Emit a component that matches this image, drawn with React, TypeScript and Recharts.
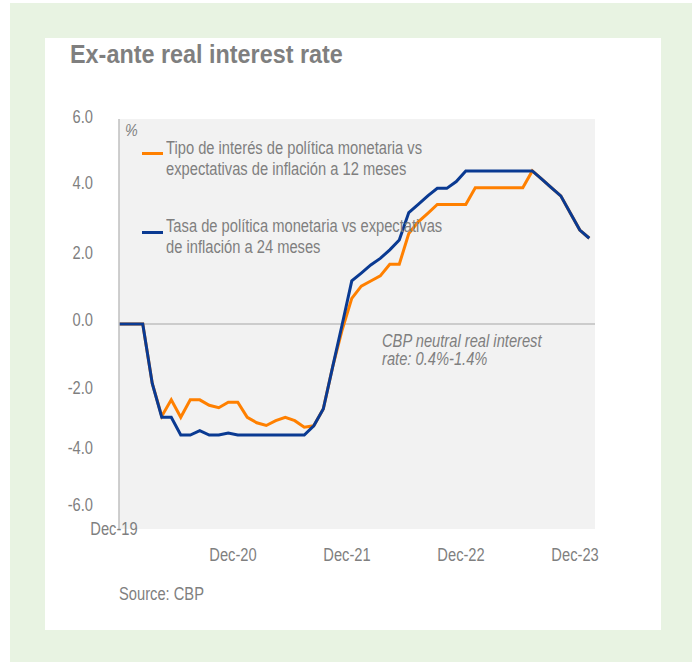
import { LineChart, Line, XAxis, YAxis, CartesianGrid, ReferenceLine, Legend } from 'recharts';

const MONTHS = [
  'Nov-19', 'Dec-19',
  'Jan-20', 'Feb-20', 'Mar-20', 'Apr-20', 'May-20', 'Jun-20', 'Jul-20', 'Aug-20', 'Sep-20', 'Oct-20', 'Nov-20', 'Dec-20',
  'Jan-21', 'Feb-21', 'Mar-21', 'Apr-21', 'May-21', 'Jun-21', 'Jul-21', 'Aug-21', 'Sep-21', 'Oct-21', 'Nov-21', 'Dec-21',
  'Jan-22', 'Feb-22', 'Mar-22', 'Apr-22', 'May-22', 'Jun-22', 'Jul-22', 'Aug-22', 'Sep-22', 'Oct-22', 'Nov-22', 'Dec-22',
  'Jan-23', 'Feb-23', 'Mar-23', 'Apr-23', 'May-23', 'Jun-23', 'Jul-23', 'Aug-23', 'Sep-23', 'Oct-23', 'Nov-23', 'Dec-23',
  'Jan-24',
];

// policy rate vs 12-month inflation expectations
const RATE_12M = [
  0, 0,
  0, 0, -1.74, -2.7, -2.22, -2.73, -2.22, -2.22, -2.38, -2.45, -2.29, -2.29,
  -2.73, -2.89, -2.97, -2.83, -2.73, -2.83, -3.02, -2.98, -2.49, -1.24, -0.16, 0.75,
  1.11, 1.26, 1.41, 1.75, 1.75, 2.65, 2.99, 3.24, 3.5, 3.5, 3.5, 3.5,
  3.99, 3.99, 3.99, 3.99, 3.99, 3.99, 4.48, 4.24, 3.99, 3.75, 3.25, 2.75,
  2.51,
];

// policy rate vs 24-month inflation expectations
const RATE_24M = [
  0, 0,
  0, 0, -1.74, -2.73, -2.73, -3.25, -3.25, -3.12, -3.25, -3.25, -3.19, -3.25,
  -3.25, -3.25, -3.25, -3.25, -3.25, -3.25, -3.25, -2.98, -2.49, -1.24, 0.0, 1.26,
  1.49, 1.73, 1.92, 2.17, 2.46, 3.26, 3.5, 3.75, 3.97, 3.97, 4.17, 4.48,
  4.48, 4.48, 4.48, 4.48, 4.48, 4.48, 4.48, 4.24, 3.99, 3.75, 3.25, 2.75,
  2.51,
];

const X_TICKS = [0, 12, 24, 36, 48];
const X_TICK_LABELS = ['Dec-19', 'Dec-20', 'Dec-21', 'Dec-22', 'Dec-23'];
const Y_TICKS = [6, 4, 2, 0, -2, -4, -6];

const LEGEND_12M = ['Tipo de interés de política monetaria vs', 'expectativas de inflación a 12 meses'];
const LEGEND_24M = ['Tasa de política monetaria vs expectativas', 'de inflación a 24 meses'];
const NEUTRAL_NOTE = ['CBP neutral real interest', 'rate: 0.4%-1.4%'];

// the source chart's y labels sit a bit above their gridline values
const Y_LABEL_SHIFT: Record<number, number> = { 6: -2, 4: -4, 2: -3, 0: -4, '-2': -4, '-4': -13, '-6': -24 };

// no condensed font installed, so squeeze Liberation Sans horizontally
const FONT = '"Liberation Sans", Arial, sans-serif';
const SQUEEZE = 0.84;
const GREY_TEXT = '#7f7f7f';
const ORANGE = '#ff8000';
const NAVY = '#0a3a92';

// x = month number counted from the start of Dec-19, data sit mid-month
const data = MONTHS.map((m, i) => ({
  month: m,
  t: i - 0.5,
  r12: RATE_12M[i],
  r24: RATE_24M[i],
}));

const NarrowText = ({ x, y, anchor = 'start', italic = false, dy, children }: any) => (
  <text
    transform={`translate(${x} ${y}) scale(${SQUEEZE} 1)`}
    x={0}
    y={0}
    dy={dy}
    textAnchor={anchor}
    fill={GREY_TEXT}
    fontSize={17.5}
    fontStyle={italic ? 'italic' : 'normal'}
    fontFamily={FONT}
  >
    {children}
  </text>
);

const XTick = (props: any) => {
  const { x, y, payload, index } = props;
  const label = X_TICK_LABELS[X_TICKS.indexOf(payload.value)] ?? '';
  const first = index === 0;
  return (
    <NarrowText x={first ? x - 5 : x} y={first ? y + 6 : y + 32} anchor="middle">
      {label}
    </NarrowText>
  );
};

const YTick = (props: any) => {
  const { x, y, payload } = props;
  const shift = Y_LABEL_SHIFT[payload.value] ?? 0;
  return (
    <NarrowText x={x - 26} y={y + shift} dy="0.35em" anchor="end">
      {payload.value.toFixed(1)}
    </NarrowText>
  );
};

const NoteLabel = (props: any) => {
  const { viewBox } = props;
  return (
    <g>
      <NarrowText x={viewBox.x + 263} y={viewBox.y + 23} italic>
        {NEUTRAL_NOTE[0]}
      </NarrowText>
      <NarrowText x={viewBox.x + 263} y={viewBox.y + 41} italic>
        {NEUTRAL_NOTE[1]}
      </NarrowText>
    </g>
  );
};

const legendText: React.CSSProperties = {
  position: 'absolute',
  left: 121,
  fontSize: 17.5,
  lineHeight: '20.5px',
  color: GREY_TEXT,
  fontFamily: FONT,
  whiteSpace: 'nowrap',
  transform: `scaleX(${SQUEEZE})`,
  transformOrigin: 'left top',
};

const ChartLegend = () => (
  <div style={{ position: 'relative', width: 616, height: 0 }}>
    <div
      style={{
        position: 'absolute',
        left: 80,
        top: 83,
        fontSize: 17,
        fontStyle: 'italic',
        color: GREY_TEXT,
        fontFamily: FONT,
        transform: `scaleX(${SQUEEZE})`,
        transformOrigin: 'left top',
      }}
    >
      %
    </div>
    <div style={{ position: 'absolute', left: 97, top: 114, width: 21, height: 3, background: ORANGE }} />
    <div style={{ ...legendText, top: 100 }}>
      {LEGEND_12M[0]}
      <br />
      {LEGEND_12M[1]}
    </div>
    <div style={{ position: 'absolute', left: 97, top: 193, width: 21, height: 3, background: NAVY }} />
    <div style={{ ...legendText, top: 178 }}>
      {LEGEND_24M[0]}
      <br />
      {LEGEND_24M[1]}
    </div>
  </div>
);

export default function App() {
  return (
    <div style={{ position: 'absolute', left: 10, top: 3, width: 682, height: 659, background: '#e8f3e2' }}>
      <div style={{ position: 'absolute', left: 35, top: 35, width: 616, height: 592, background: '#ffffff' }}>
        <div
          style={{
            position: 'absolute',
            left: 25,
            top: 4,
            fontSize: 25,
            lineHeight: '25px',
            fontWeight: 'bold',
            color: GREY_TEXT,
            fontFamily: FONT,
            whiteSpace: 'nowrap',
            transform: 'scaleX(0.935)',
            transformOrigin: 'left top',
          }}
        >
          Ex-ante real interest rate
        </div>
        <div style={{ position: 'absolute', left: 0, top: 0 }}>
          <LineChart width={616} height={592} data={data} margin={{ top: 81, right: 66, bottom: 61, left: 14 }}>
            <CartesianGrid horizontal={false} vertical={false} fill="#f2f2f2" />
            <XAxis
              dataKey="t"
              type="number"
              domain={[0, 50.1]}
              allowDataOverflow
              ticks={X_TICKS}
              interval={0}
              axisLine={false}
              tickLine={false}
              tickSize={0}
              tickMargin={0}
              height={40}
              tick={<XTick />}
            />
            <YAxis
              type="number"
              domain={[-6, 6]}
              ticks={Y_TICKS}
              interval={0}
              width={60}
              axisLine={{ stroke: '#bfbfbf', strokeWidth: 1.5 }}
              tickLine={false}
              tickSize={0}
              tickMargin={0}
              tick={<YTick />}
            />
            <ReferenceLine y={0} stroke="#bfbfbf" strokeWidth={1.5} label={<NoteLabel />} />
            <Legend
              layout="vertical"
              align="center"
              verticalAlign="middle"
              wrapperStyle={{ left: 0, top: 0, width: 616 }}
              content={() => <ChartLegend />}
            />
            <Line
              dataKey="r12"
              name="Tipo de interés de política monetaria vs expectativas de inflación a 12 meses"
              stroke={ORANGE}
              strokeWidth={3}
              dot={false}
              activeDot={false}
              isAnimationActive={false}
            />
            <Line
              dataKey="r24"
              name="Tasa de política monetaria vs expectativas de inflación a 24 meses"
              stroke={NAVY}
              strokeWidth={3}
              dot={false}
              activeDot={false}
              isAnimationActive={false}
            />
          </LineChart>
        </div>
        <div
          style={{
            position: 'absolute',
            left: 74,
            top: 548,
            fontSize: 17.5,
            lineHeight: '17.5px',
            color: GREY_TEXT,
            fontFamily: FONT,
            transform: `scaleX(${SQUEEZE})`,
            transformOrigin: 'left top',
          }}
        >
          Source: CBP
        </div>
      </div>
    </div>
  );
}
